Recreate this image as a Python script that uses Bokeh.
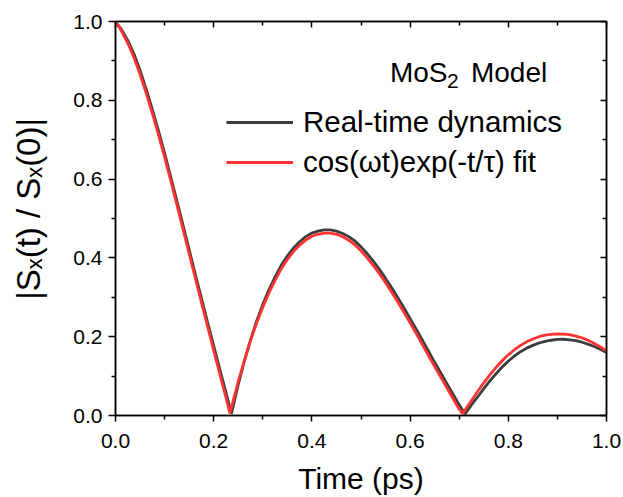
import math
from bokeh.plotting import figure
from bokeh.models import (Range1d, LinearAxis, FixedTicker, Label, Legend,
                          LegendItem, PrintfTickFormatter, CustomJSTickFormatter)
from bokeh.embed import file_html
from bokeh.resources import INLINE

# ---------------- data ----------------
t_fit = [0.0, 0.0125, 0.025, 0.0375, 0.05, 0.0625, 0.075, 0.0875, 0.1, 0.1125,
         0.125, 0.1375, 0.15, 0.1625, 0.175, 0.1875, 0.2, 0.2125, 0.225, 0.233,
         0.2375, 0.25, 0.2625, 0.275, 0.2875, 0.3, 0.3125, 0.325, 0.3375, 0.35,
         0.3625, 0.375, 0.3875, 0.4, 0.4125, 0.425, 0.4375, 0.45, 0.4625, 0.475,
         0.4875, 0.5, 0.5125, 0.525, 0.5375, 0.55, 0.5625, 0.575, 0.5875, 0.6,
         0.6125, 0.625, 0.6375, 0.65, 0.6625, 0.675, 0.6875, 0.7, 0.707, 0.7125,
         0.725, 0.7375, 0.75, 0.7625, 0.775, 0.7875, 0.8, 0.8125, 0.825, 0.8375,
         0.85, 0.8625, 0.875, 0.8875, 0.9, 0.9125, 0.925, 0.9375, 0.95, 0.9625,
         0.975, 0.9875, 1.0]
s_fit = [1.0, 0.975, 0.945, 0.909, 0.866, 0.818, 0.767, 0.713, 0.656, 0.596,
         0.535, 0.473, 0.411, 0.349, 0.287, 0.226, 0.165, 0.105, 0.045, 0.006,
         0.027, 0.086, 0.140, 0.190, 0.235, 0.275, 0.311, 0.343, 0.372, 0.396,
         0.416, 0.432, 0.445, 0.455, 0.460, 0.463, 0.463, 0.460, 0.454, 0.445,
         0.433, 0.418, 0.400, 0.381, 0.360, 0.337, 0.313, 0.288, 0.262, 0.235,
         0.208, 0.180, 0.152, 0.124, 0.097, 0.070, 0.043, 0.016, 0.005, 0.015,
         0.038, 0.061, 0.083, 0.103, 0.122, 0.139, 0.154, 0.167, 0.178, 0.187,
         0.194, 0.200, 0.204, 0.206, 0.207, 0.2065, 0.205, 0.2015, 0.197, 0.191,
         0.183, 0.174, 0.164]

t_real = [0.0, 0.0125, 0.025, 0.0375, 0.05, 0.0625, 0.075, 0.0875, 0.1, 0.1125,
          0.125, 0.1375, 0.15, 0.1625, 0.175, 0.1875, 0.2, 0.2125, 0.225, 0.236,
          0.2375, 0.25, 0.2625, 0.275, 0.2875, 0.3, 0.3125, 0.325, 0.3375, 0.35,
          0.3625, 0.375, 0.3875, 0.4, 0.4125, 0.425, 0.4375, 0.45, 0.4625, 0.475,
          0.4875, 0.5, 0.5125, 0.525, 0.5375, 0.55, 0.5625, 0.575, 0.5875, 0.6,
          0.6125, 0.625, 0.6375, 0.65, 0.6625, 0.675, 0.6875, 0.7, 0.712,
          0.725, 0.7375, 0.75, 0.7625, 0.775, 0.7875, 0.8, 0.8125, 0.825, 0.8375,
          0.85, 0.8625, 0.875, 0.8875, 0.9, 0.9125, 0.925, 0.9375, 0.95, 0.9625,
          0.975, 0.9875, 1.0]
s_real = [1.0, 0.979, 0.952, 0.918, 0.876, 0.828, 0.777, 0.723, 0.666, 0.606,
          0.545, 0.483, 0.421, 0.359, 0.298, 0.237, 0.177, 0.117, 0.058, 0.005,
          0.012, 0.078, 0.138, 0.192, 0.240, 0.282, 0.319, 0.352, 0.381, 0.405,
          0.425, 0.441, 0.454, 0.463, 0.468, 0.471, 0.471, 0.468, 0.462, 0.454,
          0.443, 0.428, 0.411, 0.392, 0.371, 0.348, 0.324, 0.299, 0.273, 0.246,
          0.219, 0.191, 0.163, 0.135, 0.108, 0.081, 0.054, 0.027, 0.004,
          0.027, 0.047, 0.068, 0.088, 0.106, 0.123, 0.138, 0.151, 0.162, 0.171,
          0.178, 0.184, 0.188, 0.191, 0.193, 0.1935, 0.192, 0.190, 0.186, 0.181,
          0.175, 0.168, 0.160]

major_ticks = [0.0, 0.2, 0.4, 0.6, 0.8, 1.0]
minor_ticks = [0.1, 0.3, 0.5, 0.7, 0.9]

real_label = "Real-time dynamics"
fit_label = "cos(\u03c9t)exp(-t/\u03c4) fit"
x_title = "Time (ps)"
y_title = "\u2002\u200a|S\u2093(t) / S\u2093(0)|"

FONT = "Liberation Sans"

p = figure(width=623, height=497, x_range=Range1d(0, 1), y_range=Range1d(0, 1),
           output_backend="svg", toolbar_location=None,
           min_border_left=115, min_border_right=17, min_border_top=21,
           min_border_bottom=81)
p.xgrid.visible = False
p.ygrid.visible = False
p.outline_line_color = "black"
p.outline_line_width = 1.5
p.background_fill_color = "white"
p.border_fill_color = "white"

ticker = FixedTicker(ticks=major_ticks, minor_ticks=minor_ticks)

def style_axis(ax, inside, show_labels, tick_len, standoff):
    ax.ticker = ticker
    ax.axis_line_color = "black"
    ax.axis_line_width = 1.5
    ax.major_tick_line_color = "black"
    ax.minor_tick_line_color = "black"
    ax.major_tick_line_width = 1.5
    ax.minor_tick_line_width = 1.5
    if inside:
        ax.major_tick_in = 6
        ax.major_tick_out = 0
        ax.minor_tick_in = 4
        ax.minor_tick_out = 0
    else:
        ax.major_tick_in = 0
        ax.major_tick_out = tick_len
        ax.minor_tick_in = 0
        ax.minor_tick_out = 4
    if show_labels:
        ax.formatter = PrintfTickFormatter(format="%.1f")
        ax.major_label_text_font = FONT
        ax.major_label_text_font_size = "21px"
        ax.major_label_text_color = "black"
        ax.major_label_standoff = standoff
    else:
        ax.formatter = CustomJSTickFormatter(code="return ''")
        ax.major_label_standoff = 0

style_axis(p.xaxis[0], False, True, 6, 12)
style_axis(p.yaxis[0], False, True, 7, 6)

xa = p.xaxis[0]
xa.axis_label = x_title
xa.axis_label_text_font = FONT
xa.axis_label_text_font_size = "30px"
xa.axis_label_text_font_style = "normal"
xa.axis_label_text_color = "black"
xa.axis_label_standoff = 11

ya = p.yaxis[0]
ya.axis_label = y_title
ya.axis_label_text_font = FONT
ya.axis_label_text_font_size = "33px"
ya.axis_label_text_font_style = "normal"
ya.axis_label_text_color = "black"
ya.axis_label_standoff = 23

top_ax = LinearAxis()
right_ax = LinearAxis()
style_axis(top_ax, True, False, 0, 0)
style_axis(right_ax, True, False, 0, 0)
p.add_layout(top_ax, "above")
p.add_layout(right_ax, "right")

r_real = p.line(t_real, s_real, line_color="#3d3d3d", line_width=2.8)
r_fit = p.line(t_fit, s_fit, line_color="#ff3333", line_width=2.8)

legend = Legend(items=[LegendItem(label=real_label, renderers=[r_real]),
                       LegendItem(label=fit_label, renderers=[r_fit])],
                location=(111, 236), orientation="vertical")
legend.label_text_font = FONT
legend.label_text_font_size = "29.5px"
legend.label_text_color = "black"
legend.glyph_width = 67
legend.glyph_height = 20
legend.label_standoff = 10
legend.spacing = 6
legend.padding = 0
legend.margin = 0
legend.border_line_alpha = 0
legend.background_fill_alpha = 0
p.add_layout(legend, "center")

# "MoS2 Model" annotation
x0, y0 = 0.559, 0.870
p.add_layout(Label(x=x0, y=y0, text="MoS", text_font=FONT, text_font_size="28px",
                   text_color="black", text_baseline="alphabetic"))
p.add_layout(Label(x=x0, y=y0, x_offset=57, y_offset=-8, text="2", text_font=FONT,
                   text_font_size="21px", text_color="black", text_baseline="alphabetic"))
p.add_layout(Label(x=x0, y=y0, x_offset=81, text="Model", text_font=FONT,
                   text_font_size="28px", text_color="black", text_baseline="alphabetic"))

open("out.html", "w").write(file_html(p, INLINE))
